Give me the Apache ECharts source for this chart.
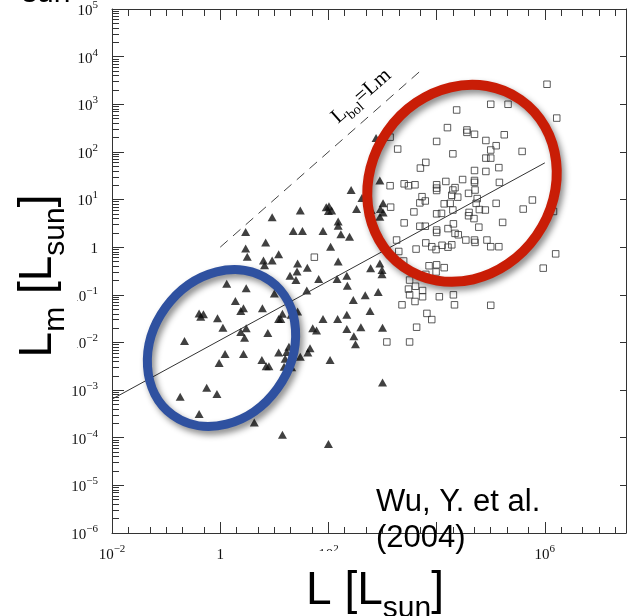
<!DOCTYPE html>
<html>
<head>
<meta charset="utf-8">
<script src="https://cdn.jsdelivr.net/npm/echarts@6/dist/echarts.min.js"></script>
<style>
  html, body { margin: 0; padding: 0; background: #fff; }
  #chart { width: 627px; height: 616px; }
</style>
</head>
<body>
<div id="chart"></div>
<script>
// all values are log10 of luminosity
// filled triangles
const triX = [
  0.47, 0.47, 0.50, 0.12, 0.48, 0.28, 0.43, 0.38, -0.39, -0.31,
  -0.36, -0.05, 0.05, 0.48, 0.38, 0.45, -0.66, 0.88, 1.08, 1.12,
  1.15, 1.00, 1.29, 1.40, 1.42, 1.43, 1.60, 0.80, 0.96, 0.82,
  1.71, 1.78, 0.09, 0.43, 0.77, 0.85, 0.90, 1.08, 1.23, 1.27,
  1.20, 1.18, 1.32, 1.48, 1.66, -0.02, -0.25, -0.06, -0.74, -0.39,
  0.63, 1.15, 2.42, 1.96, 2.01, 2.00, 2.06, 2.52, 1.48, 0.96,
  2.18, 2.18, 1.35, 1.52, 1.90, 2.23, 2.39, 0.84, 2.04, 1.08,
  2.18, 1.61, 2.78, 1.82, 2.16, 2.34, 2.35, 2.46, 2.68, 0.78,
  1.31, 1.43, 1.90, 2.17, 2.34, 2.77, 2.34, 2.47, 2.60, 2.50,
  1.62, 2.03, 2.00, 3.00, 3.00, 2.88, 2.95, 2.62, 3.01, 2.96,
  3.01, 2.95, 2.79, 2.95, 2.99, 2.99, 2.92
];
const triY = [
  0.32, -0.03, -0.20, -0.77, -0.86, -1.13, -1.28, -1.34, -1.39, -1.41,
  -1.46, -1.49, -1.69, -1.70, -1.78, -1.90, -1.97, -1.80, -1.51, -1.51,
  -1.40, -0.97, -0.60, -0.69, -0.51, -0.34, -0.91, -0.28, -0.28, -0.38,
  -1.70, -1.75, -2.24, -2.24, -2.37, -2.50, -2.50, -2.21, -2.20, -2.09,
  -2.34, -2.51, -2.52, -2.30, -2.12, -2.43, -2.95, -3.08, -3.14, -3.50,
  -3.68, -3.94, 1.20, 0.84, 0.86, 0.76, 0.77, 0.80, 0.77, 0.63,
  0.54, 0.45, 0.34, 0.34, 0.34, 0.27, 0.22, 0.10, 0.01, -0.15,
  -0.30, -0.43, -0.44, -0.67, -0.67, -0.60, -0.81, -1.11, -1.01, -1.28,
  -1.42, -1.35, -1.51, -1.51, -1.42, -1.34, -1.72, -1.87, -1.68, -2.04,
  -2.21, -2.37, -4.13, -1.69, -2.84, 2.29, 1.40, 1.03, 0.92, 0.80,
  0.73, 0.64, 0.78, -0.34, -0.48, -0.57, -0.94
];
// open squares
const sqX = [
  6.04, 5.00, 5.32, 4.37, 6.22, 4.20, 4.56, 4.56, 4.70, 5.25,
  4.00, 4.91, 3.28, 5.10, 5.00, 5.58, 4.30, 4.91, 5.00, 3.80,
  3.70, 5.15, 4.70, 4.91, 4.70, 4.70, 4.48, 4.17, 5.16, 3.14,
  3.40, 3.48, 3.60, 4.00, 4.00, 4.00, 4.34, 4.30, 4.59, 4.71,
  3.73, 3.79, 3.69, 4.28, 4.39, 4.25, 4.75, 4.73, 4.14, 5.10,
  5.77, 3.15, 3.58, 4.30, 4.60, 4.79, 4.90, 5.60, 6.16, 4.00,
  4.09, 4.59, 4.69, 3.40, 3.69, 3.79, 4.00, 4.00, 4.21, 4.31,
  4.34, 4.40, 4.78, 5.22, 3.26, 3.80, 3.91, 4.10, 3.99, 4.21,
  4.28, 4.54, 4.70, 4.71, 4.93, 5.00, 5.15, 3.62, 3.30, 3.39,
  3.86, 4.00, 4.14, 3.99, 3.80, 5.97, 6.20, 3.50, 3.61, 3.48,
  3.74, 3.50, 3.74, 3.60, 3.36, 4.05, 4.31, 4.33, 5.00, 3.82,
  3.91, 3.63, 3.08, 3.50, 1.74, 3.14
];
const sqY = [
  3.42, 3.00, 3.00, 2.88, 2.71, 2.51, 2.46, 2.41, 2.37, 2.36,
  2.22, 2.24, 2.06, 2.13, 2.04, 2.01, 1.96, 1.87, 1.87, 1.78,
  1.66, 1.67, 1.61, 1.59, 1.40, 1.36, 1.42, 1.38, 1.36, 1.29,
  1.33, 1.29, 1.31, 1.31, 1.24, 1.19, 1.25, 1.20, 1.13, 1.20,
  1.06, 0.97, 0.93, 1.09, 1.05, 0.92, 1.02, 0.92, 0.91, 0.92,
  0.99, 0.84, 0.74, 0.78, 0.73, 0.79, 0.78, 0.80, 0.75, 0.70,
  0.71, 0.66, 0.60, 0.51, 0.44, 0.44, 0.36, 0.31, 0.39, 0.49,
  0.29, 0.26, 0.42, 0.52, 0.15, 0.09, 0.01, 0.04, -0.05, 0.00,
  0.05, 0.15, 0.15, 0.10, 0.15, 0.01, 0.01, -0.04, -0.09, -0.29,
  -0.39, -0.37, -0.43, -0.52, -0.57, -0.44, -0.14, -0.69, -0.82, -0.88,
  -0.91, -1.00, -1.04, -1.14, -1.21, -1.04, -1.00, -1.21, -1.22, -1.39,
  -1.52, -1.68, -1.99, -1.99, -0.21, 2.31
];
// L_bol = L_m line and the fit
const bolX = [0, 3.7];
const fitX = [-2, 6];
const fitY = [-3.19, 1.77];

// ticks
const xLabelTicks = [-2, 0, 2, 4, 6];
const yLabelTicks = [-6, -5, -4, -3, -2, -1, 0, 1, 2, 3, 4, 5];
const xMinorSteps = [2, 5];
const yMinorSteps = [2, 3, 4, 5, 6, 7, 8, 9];

const xMinorTicks = [];
for (let n = -2; n <= 7; n++) {
  if (n % 2 !== 0) xMinorTicks.push(n);
  xMinorSteps.forEach(function (k) {
    const v = n + Math.log10(k);
    if (v <= 7.5) xMinorTicks.push(v);
  });
}
const yMinorTicks = [];
for (let n = -6; n < 5; n++) {
  yMinorSteps.forEach(function (k) { yMinorTicks.push(n + Math.log10(k)); });
}

function powLabel(v) {
  if (v === 0) return '{b|1}';
  return '{b|10}{s|' + (v < 0 ? '\u2212' + (-v) : v) + '}';
}

const serif = 'Liberation Serif';
const labelRich = {
  b: { fontFamily: serif, fontSize: 15, color: '#111', lineHeight: 19, verticalAlign: 'bottom' },
  s: { fontFamily: serif, fontSize: 11, color: '#111', lineHeight: 12, verticalAlign: 'top' }
};
const titleRich = {
  a: { fontFamily: 'Liberation Sans', fontSize: 46, color: '#000', lineHeight: 50, verticalAlign: 'top' },
  s: { fontFamily: 'Liberation Sans', fontSize: 30, color: '#000', lineHeight: 34, verticalAlign: 'top', padding: [26, 0, 0, 0] }
};

const lineCol = '#333';
function axis(extra) {
  return Object.assign({
    type: 'value',
    axisLine: { onZero: false, lineStyle: { color: lineCol, width: 1 } },
    splitLine: { show: false },
    axisLabel: { show: false }
  }, extra);
}

const chart = echarts.init(document.getElementById('chart'));
chart.setOption({
  animation: false,
  backgroundColor: '#fff',
  grid: { left: 112, right: 1, top: 9, bottom: 83, containLabel: false, outerBoundsMode: 'none' },
  xAxis: [
    axis({
      position: 'bottom', min: -2, max: 7.5,
      axisLabel: { show: true, customValues: xLabelTicks, formatter: powLabel, rich: labelRich, margin: 11 },
      axisTick: { customValues: xLabelTicks, inside: true, length: 11, lineStyle: { color: lineCol } }
    }),
    axis({
      position: 'bottom', min: -2, max: 7.5,
      axisLine: { show: false, onZero: false },
      axisTick: { customValues: xMinorTicks, inside: true, length: 6, lineStyle: { color: lineCol } }
    }),
    axis({
      position: 'top', min: -2, max: 7.5,
      axisTick: { customValues: xLabelTicks, inside: true, length: 11, lineStyle: { color: lineCol } }
    }),
    axis({
      position: 'top', min: -2, max: 7.5,
      axisLine: { show: false, onZero: false },
      axisTick: { customValues: xMinorTicks, inside: true, length: 7, lineStyle: { color: lineCol } }
    })
  ],
  yAxis: [
    axis({
      position: 'left', min: -6, max: 5,
      axisLabel: { show: true, customValues: yLabelTicks, formatter: powLabel, rich: labelRich, margin: 14 },
      axisTick: { customValues: yLabelTicks, inside: true, length: 12, lineStyle: { color: lineCol } }
    }),
    axis({
      position: 'left', min: -6, max: 5,
      axisLine: { show: false, onZero: false },
      axisTick: { customValues: yMinorTicks, inside: true, length: 7, lineStyle: { color: lineCol } }
    }),
    axis({
      position: 'right', min: -6, max: 5,
      axisTick: { customValues: yLabelTicks, inside: true, length: 6, lineStyle: { color: lineCol } }
    })
  ],
  series: [
    {
      type: 'scatter', name: 'triangles', xAxisIndex: 0, yAxisIndex: 0,
      data: triX.map(function (x, i) { return [x, triY[i]]; }),
      symbol: 'triangle', symbolSize: [9, 8],
      itemStyle: { color: '#111' }
    },
    {
      type: 'scatter', name: 'squares', xAxisIndex: 0, yAxisIndex: 0,
      data: sqX.map(function (x, i) { return [x, sqY[i]]; }),
      symbol: 'rect', symbolSize: 6.5,
      itemStyle: { color: 'rgba(255,255,255,0)', borderColor: '#333', borderWidth: 1 }
    },
    {
      type: 'line', name: 'Lbol=Lm', xAxisIndex: 0, yAxisIndex: 0,
      data: bolX.map(function (x) { return [x, x]; }),
      symbol: 'none',
      lineStyle: { color: '#444', width: 1, type: [10, 7] }
    },
    {
      type: 'line', name: 'fit', xAxisIndex: 0, yAxisIndex: 0,
      data: fitX.map(function (x, i) { return [x, fitY[i]]; }),
      symbol: 'none',
      lineStyle: { color: '#333', width: 1 }
    }
  ],
  graphic: [
    {
      type: 'text', x: 362, y: 97, rotation: 41.3 * Math.PI / 180, z: 50,
      style: {
        text: '{a|L}{s|bol}{a|=Lm}', align: 'center', verticalAlign: 'middle',
        rich: {
          a: { fontFamily: serif, fontSize: 21, color: '#222', lineHeight: 23, verticalAlign: 'top' },
          s: { fontFamily: serif, fontSize: 14, color: '#222', lineHeight: 15, verticalAlign: 'top', padding: [11, 0, 0, 0] }
        }
      }
    },
    {
      type: 'ellipse', x: 221.5, y: 348, rotation: 54 * Math.PI / 180, z: 100,
      shape: { cx: 0, cy: 0, rx: 83, ry: 69 },
      style: {
        fill: 'none', stroke: '#2f51a0', lineWidth: 9,
        shadowBlur: 6, shadowOffsetX: 3, shadowOffsetY: 4, shadowColor: 'rgba(0,0,0,0.45)'
      }
    },
    {
      type: 'ellipse', x: 462, y: 183.3, rotation: 55 * Math.PI / 180, z: 100,
      shape: { cx: 0, cy: 0, rx: 102, ry: 91 },
      style: {
        fill: 'none', stroke: '#c91d06', lineWidth: 10,
        shadowBlur: 6, shadowOffsetX: 3, shadowOffsetY: 4, shadowColor: 'rgba(0,0,0,0.45)'
      }
    },
    // white text boxes that hide parts of the tick labels
    { type: 'rect', z: 90, shape: { x: 316, y: 551, width: 30, height: 22 }, style: { fill: '#fff' } },
    { type: 'rect', z: 90, shape: { x: 346, y: 538, width: 130, height: 35 }, style: { fill: '#fff' } },
    {
      type: 'text', x: 376, y: 484, z: 110,
      style: { text: 'Wu, Y. et al.\n(2004)', font: '31px "Liberation Sans"', lineHeight: 36, fill: '#000' }
    },
    { type: 'rect', z: 90, shape: { x: 0, y: 268, width: 77, height: 104 }, style: { fill: '#fff' } },
    {
      type: 'text', x: 40, y: 276, rotation: Math.PI / 2, z: 110,
      style: { text: '{a|L}{s|m}{a| [L}{s|sun}{a|]}', align: 'center', verticalAlign: 'middle', rich: titleRich }
    },
    {
      type: 'text', x: 375, y: 593, z: 110,
      style: { text: '{a|L [L}{s|sun}{a|]}', align: 'center', verticalAlign: 'middle', rich: titleRich }
    },
    {
      type: 'text', x: 22, y: 9, z: 110,
      style: { text: 'sun', font: '30px "Liberation Sans"', fill: '#000', verticalAlign: 'bottom' }
    }
  ]
});
</script>
</body>
</html>
